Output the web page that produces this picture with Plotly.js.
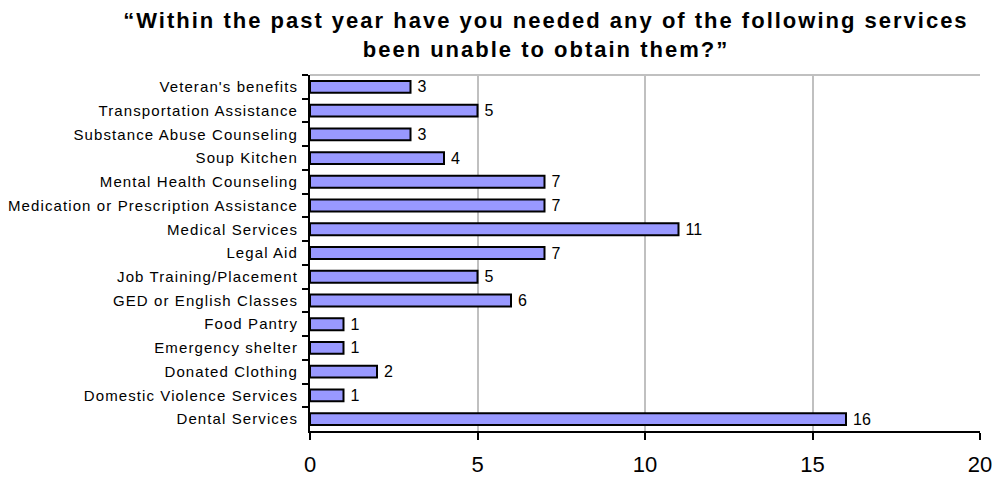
<!DOCTYPE html>
<html><head><meta charset="utf-8">
<script src="https://cdn.plot.ly/plotly-3.0.1.min.js"></script>
<style>
html,body{margin:0;padding:0;background:#fff}
#chart{width:997px;height:481px}
#chart .gtitle{letter-spacing:2px}
#chart .ytick text{letter-spacing:1.1px}
</style>
</head><body><div id="chart"></div>
<script>
const categories = ["Veteran's benefits","Transportation Assistance","Substance Abuse Counseling","Soup Kitchen","Mental Health Counseling","Medication or Prescription Assistance","Medical Services","Legal Aid","Job Training/Placement","GED or English Classes","Food Pantry","Emergency shelter","Donated Clothing","Domestic Violence Services","Dental Services"];
const counts = [3,5,3,4,7,7,11,7,5,6,1,1,2,1,16];
const xTicks = [0,5,10,15,20];
const titleText = "“Within the past year have you needed any of the following services<br>been unable to obtain them?”";

const FONT = 'Liberation Sans, Arial, sans-serif';
const trace = {
  type: 'bar', orientation: 'h',
  y: categories, x: counts,
  text: counts.map(v => '\u2005' + v), textposition: 'outside', cliponaxis: false,
  constraintext: 'none',
  textfont: {family: FONT, size: 16, color: '#000'},
  marker: {color: '#9999FF', line: {color: '#000', width: 2}},
  width: 0.5, hoverinfo: 'skip'
};
const layout = {
  width: 997, height: 481,
  margin: {l: 310, r: 17, t: 75, b: 50},
  paper_bgcolor: '#fff', plot_bgcolor: '#fff',
  showlegend: false,
  title: {text: titleText, xref: 'container', yref: 'container',
    x: 0.5476, xanchor: 'center', y: 1 - 28/481, yanchor: 'middle',
    font: {family: FONT, size: 22, color: '#000', weight: 'bold'}},
  xaxis: {range: [0, 20], tickvals: xTicks, ticktext: xTicks.map(String),
    showgrid: true, gridcolor: '#C0C0C0', gridwidth: 2,
    zeroline: false, showline: true, linecolor: '#000', linewidth: 2,
    ticks: 'outside', ticklen: 7, tickwidth: 2, tickcolor: '#000',
    ticklabelstandoff: 6,
    tickfont: {family: FONT, size: 22, color: '#000'}},
  yaxis: {type: 'category', autorange: 'reversed', showgrid: false, zeroline: false,
    showline: true, linecolor: '#000', linewidth: 2,
    ticks: 'outside', ticklen: 6, tickwidth: 2, tickcolor: '#000', tickson: 'boundaries',
    ticklabelstandoff: 7,
    tickfont: {family: FONT, size: 15, color: '#000'}},
  shapes: [{type: 'line', xref: 'paper', yref: 'paper', x0: 0, x1: 1, y0: 1, y1: 1,
    line: {color: '#C0C0C0', width: 2}, layer: 'below'}]
};
Plotly.newPlot('chart', [trace], layout, {displayModeBar: false, staticPlot: true});
</script></body></html>
